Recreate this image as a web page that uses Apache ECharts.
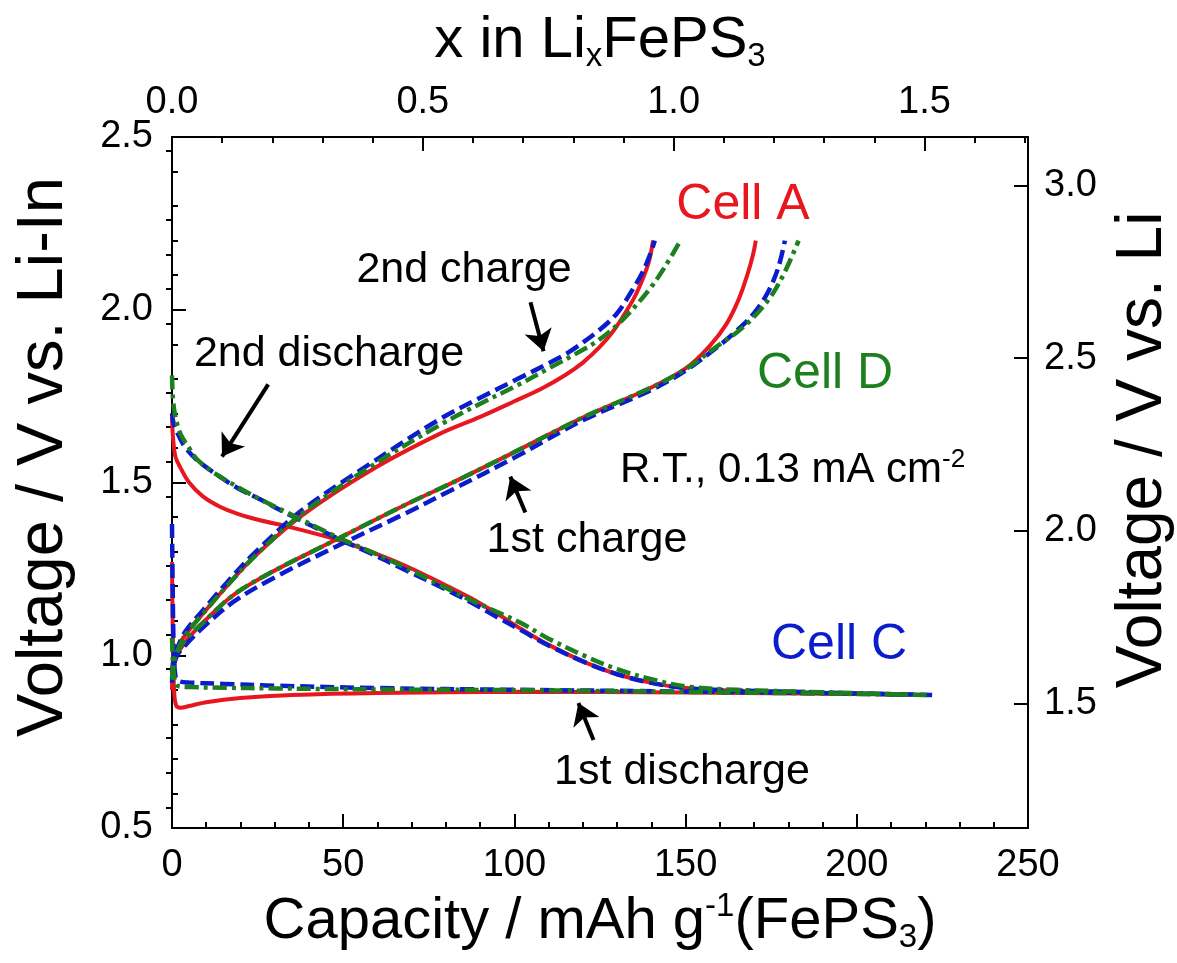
<!DOCTYPE html>
<html>
<head>
<meta charset="utf-8">
<title>FePS3 charge / discharge</title>
<script src="https://cdn.jsdelivr.net/npm/echarts@6.0.0/dist/echarts.min.js"></script>
<style>
html, body { margin: 0; padding: 0; background: #fff; }
#main { width: 1177px; height: 963px; }
</style>
</head>
<body>
<div id="main"></div>
<script>
// capacity (mAh/g) , voltage (V vs. Li-In)
var cellA_dis1 = [[0,1.27],[0.25,1.05],[0.6,0.9],[1.2,0.855],[2.5,0.848],[5,0.853],[10,0.864],[20,0.876],[35,0.885],[60,0.891],[100,0.894],[150,0.892],[200,0.888],[221,0.885]];
var cellA_chg1 = [[0,0.9],[0.5,0.96],[1.5,1.0],[4,1.04],[9,1.094],[18,1.175],[29,1.24],[48,1.335],[67,1.43],[82,1.5],[100,1.588],[120,1.688],[140,1.775],[150,1.83],[157,1.895],[162,1.96],[165.5,2.03],[168,2.1],[169.7,2.16],[170.5,2.2]];
var cellA_dis2 = [[0,1.69],[0.3,1.63],[1,1.575],[2.3,1.546],[5,1.5],[9,1.46],[14,1.43],[19,1.41],[26,1.39],[33.6,1.373],[48,1.335],[58,1.3],[67.5,1.262],[77,1.217],[87,1.167],[95,1.12],[102,1.076],[110,1.03],[121,0.978],[130,0.945],[140,0.92],[150,0.905],[165,0.897],[190,0.891],[215,0.886]];
var cellA_chg2 = [[0,0.9],[0.5,0.97],[1.5,1.02],[4,1.06],[9,1.12],[16,1.2],[24,1.285],[38,1.405],[58,1.535],[78,1.64],[90,1.69],[100,1.735],[108,1.772],[115,1.812],[120,1.847],[125,1.893],[129,1.94],[132,1.985],[135,2.035],[137.5,2.09],[139.3,2.14],[140.5,2.2]];

var cellC_dis1 = [[0,1.38],[0.2,1.2],[0.5,1.02],[1,0.94],[2,0.925],[5,0.921],[15,0.917],[30,0.912],[60,0.905],[100,0.9],[150,0.895],[200,0.889],[222,0.885]];
var cellC_chg1 = [[0,0.92],[0.5,0.97],[1.5,1.0],[4,1.03],[9,1.08],[18,1.155],[29,1.22],[48,1.315],[67,1.405],[82,1.48],[100,1.572],[120,1.68],[140,1.768],[150,1.824],[159,1.89],[165,1.94],[170,1.99],[174,2.05],[177,2.12],[179,2.2]];
var cellC_dis2 = [[0,1.7],[0.5,1.67],[2,1.635],[4,1.6],[7.3,1.565],[12,1.53],[19,1.485],[26,1.45],[33.6,1.41],[48,1.34],[58,1.295],[67.5,1.25],[77,1.205],[87,1.155],[95,1.11],[102,1.072],[110,1.028],[121,0.978],[130,0.945],[140,0.92],[150,0.905],[165,0.898],[190,0.892],[215,0.886]];
var cellC_chg2 = [[0,0.95],[0.5,0.99],[1.5,1.02],[4,1.07],[9,1.13],[16,1.21],[24,1.295],[38,1.42],[58,1.555],[78,1.682],[90,1.745],[101,1.8],[110,1.845],[116,1.878],[125,1.943],[130,1.99],[134,2.05],[137.5,2.11],[140,2.17],[141,2.2]];

var cellD_dis1 = [[0,1.05],[0.4,0.96],[1,0.92],[2,0.91],[5,0.908],[15,0.906],[30,0.904],[60,0.901],[100,0.899],[150,0.894],[200,0.888],[221,0.885]];
var cellD_chg1 = [[0,0.93],[0.5,0.98],[1.5,1.01],[4,1.045],[9,1.094],[18,1.175],[29,1.24],[48,1.335],[67,1.43],[82,1.5],[100,1.588],[120,1.688],[140,1.775],[150,1.828],[159,1.893],[165,1.935],[170,1.98],[175,2.04],[179,2.11],[183,2.2]];
var cellD_dis2 = [[0,1.81],[0.3,1.74],[1,1.69],[2.5,1.64],[5,1.6],[7.3,1.567],[12,1.53],[19,1.488],[26,1.45],[33.6,1.413],[48,1.343],[58,1.3],[67.5,1.257],[77,1.21],[87,1.161],[95,1.125],[101.8,1.094],[110,1.048],[121,0.996],[130,0.96],[140.6,0.929],[150.6,0.909],[165,0.9],[190,0.893],[215,0.886]];
var cellD_chg2 = [[0,0.93],[0.5,0.98],[1.5,1.01],[4,1.06],[9,1.12],[16,1.2],[24,1.285],[38,1.41],[58,1.546],[78,1.665],[90,1.728],[101,1.782],[110,1.83],[118,1.873],[125,1.915],[132,1.975],[139.5,2.06],[144,2.125],[148.5,2.2]];

// annotation arrows: [tail, head] in (capacity, V vs. Li-In)
var arrows = [
	[[104.7, 2.022], [108.5, 1.88]],
	[[28.1, 1.784], [14.6, 1.575]],
	[[103.2, 1.413], [98.8, 1.517]],
	[[123.1, 0.755], [118.7, 0.862]]
];

// tick values for top (x in LixFePS3) and right (V vs. Li) axes
var topMajor = [0.0, 0.5, 1.0, 1.5];
var topMinor = [0.1, 0.2, 0.3, 0.4, 0.6, 0.7, 0.8, 0.9, 1.1, 1.2, 1.3, 1.4, 1.6, 1.7];
var rightMajor = [1.5, 2.0, 2.5, 3.0];
var rightMinor = [1.2, 1.3, 1.4, 1.6, 1.7, 1.8, 1.9, 2.1, 2.2, 2.3, 2.4, 2.6, 2.7, 2.8, 2.9, 3.1];

var capPerLi = 146.5;      // mAh/g for one Li per FePS3
var liInOffset = 0.64;     // V, Li-In vs. Li

var FONT = '"Liberation Sans", Arial, Helvetica, sans-serif';
var RED = '#e8171f', BLUE = '#0b1ccc', GREEN = '#1e7f1e';

var myChart = echarts.init(document.getElementById('main'));

function curve(data, color, dash, width) {
	return {
		type: 'line',
		xAxisIndex: 0,
		yAxisIndex: 0,
		data: data,
		symbol: 'none',
		showSymbol: false,
		smooth: 0.35,
		silent: true,
		lineStyle: {
			color: color,
			width: width,
			type: dash,
			cap: 'butt'
		}
	};
}

var solid = 'solid', dashed = [14, 6], dashDot = [14, 5, 4, 5];

var series = [
	curve(cellA_dis1, RED, solid, 4),
	curve(cellA_chg1, RED, solid, 4),
	curve(cellA_dis2, RED, solid, 4),
	curve(cellA_chg2, RED, solid, 4),
	curve(cellC_dis1, BLUE, dashed, 4.5),
	curve(cellC_chg1, BLUE, dashed, 4.5),
	curve(cellC_dis2, BLUE, dashed, 4.5),
	curve(cellC_chg2, BLUE, dashed, 4.5),
	curve(cellD_dis1, GREEN, dashDot, 4.5),
	curve(cellD_chg1, GREEN, dashDot, 4.5),
	curve(cellD_dis2, GREEN, dashDot, 4.5),
	curve(cellD_chg2, GREEN, dashDot, 4.5)
];

// arrows drawn as a markLine on the first series
series[0].markLine = {
	silent: true,
	symbol: ['none', 'arrow'],
	symbolSize: 21,
	label: { show: false },
	lineStyle: { color: '#000', width: 4, type: 'solid' },
	emphasis: { disabled: true },
	animation: false,
	data: arrows.map(function (a) {
		return [{ coord: a[0] }, { coord: a[1] }];
	})
};

var axisLineStyle = { color: '#000', width: 2 };
var tickLabel = { fontSize: 38, fontFamily: FONT, color: '#000' };
var richName = {
	n: { fontSize: 58, fontFamily: FONT, color: '#000', lineHeight: 64 },
	sup: { fontSize: 33, fontFamily: FONT, color: '#000', verticalAlign: 'top' },
	sub: { fontSize: 33, fontFamily: FONT, color: '#000', verticalAlign: 'bottom' }
};

option = {
	animation: false,
	backgroundColor: '#fff',
	grid: {
		left: 172,
		right: 149,
		top: 137,
		bottom: 135,
		containLabel: false
	},
	xAxis: [{
		type: 'value',
		position: 'bottom',
		min: 0,
		max: 250,
		interval: 50,
		axisLine: { show: true, onZero: false, lineStyle: axisLineStyle },
		axisTick: { show: true, inside: true, length: 14, lineStyle: { color: '#000', width: 2 } },
		minorTick: { show: true, splitNumber: 5, length: 6, lineStyle: { color: '#000', width: 2 } },
		splitLine: { show: false },
		axisLabel: Object.assign({ margin: 19 }, tickLabel),
		name: '{n|Capacity / mAh g}{sup|-1}{n|(FePS}{sub|3}{n|)}',
		nameLocation: 'middle',
		nameGap: 62,
		nameTextStyle: { rich: richName }
	}, {
		type: 'value',
		position: 'top',
		min: 0,
		max: 250 / capPerLi,
		axisLine: { show: true, onZero: false, lineStyle: axisLineStyle },
		axisTick: { show: true, inside: true, length: 14, customValues: topMajor, lineStyle: { color: '#000', width: 2 } },
		splitLine: { show: false },
		axisLabel: Object.assign({
			margin: 15,
			customValues: topMajor,
			formatter: function (v) { return v.toFixed(1); }
		}, tickLabel),
		name: '{n|x in Li}{sub|x}{n|FePS}{sub|3}',
		nameLocation: 'middle',
		nameGap: 64,
		nameTextStyle: { rich: richName }
	}, {
		type: 'value',
		position: 'top',
		min: 0,
		max: 250 / capPerLi,
		axisLine: { show: false },
		axisTick: { show: true, inside: true, length: 6, customValues: topMinor, lineStyle: { color: '#000', width: 2 } },
		splitLine: { show: false },
		axisLabel: { show: false }
	}],
	yAxis: [{
		type: 'value',
		position: 'left',
		min: 0.5,
		max: 2.5,
		interval: 0.5,
		axisLine: { show: true, onZero: false, lineStyle: axisLineStyle },
		axisTick: { show: true, inside: true, length: 14, lineStyle: { color: '#000', width: 2 } },
		minorTick: { show: true, splitNumber: 5, length: 6, lineStyle: { color: '#000', width: 2 } },
		splitLine: { show: false },
		axisLabel: Object.assign({
			margin: 19,
			formatter: function (v) { return v.toFixed(1); }
		}, tickLabel)
	}, {
		type: 'value',
		position: 'right',
		min: 0.5 + liInOffset,
		max: 2.5 + liInOffset,
		axisLine: { show: true, onZero: false, lineStyle: axisLineStyle },
		axisTick: { show: true, inside: true, length: 14, customValues: rightMajor, lineStyle: { color: '#000', width: 2 } },
		splitLine: { show: false },
		axisLabel: Object.assign({
			margin: 16,
			customValues: rightMajor,
			formatter: function (v) { return v.toFixed(1); }
		}, tickLabel)
	}, {
		type: 'value',
		position: 'right',
		min: 0.5 + liInOffset,
		max: 2.5 + liInOffset,
		axisLine: { show: false },
		axisTick: { show: true, inside: true, length: 6, customValues: rightMinor, lineStyle: { color: '#000', width: 2 } },
		splitLine: { show: false },
		axisLabel: { show: false }
	}],
	graphic: [
		{ type: 'text', x: 44, y: 457, rotation: Math.PI / 2,
			style: { text: 'Voltage / V vs. Li-In', fontSize: 65, fontFamily: FONT, fill: '#000', align: 'center', verticalAlign: 'middle' } },
		{ type: 'text', x: 1143, y: 450, rotation: Math.PI / 2,
			style: { text: 'Voltage / V vs. Li', fontSize: 64, fontFamily: FONT, fill: '#000', align: 'center', verticalAlign: 'middle' } },
		{ type: 'text', x: 743, y: 205,
			style: { text: 'Cell A', fontSize: 50, fontFamily: FONT, fill: RED, align: 'center', verticalAlign: 'middle' } },
		{ type: 'text', x: 757, y: 374,
			style: { text: 'Cell D', fontSize: 50, fontFamily: FONT, fill: GREEN, align: 'left', verticalAlign: 'middle' } },
		{ type: 'text', x: 771, y: 645,
			style: { text: 'Cell C', fontSize: 50, fontFamily: FONT, fill: BLUE, align: 'left', verticalAlign: 'middle' } },
		{ type: 'text', x: 464, y: 270,
			style: { text: '2nd charge', fontSize: 43, fontFamily: FONT, fill: '#000', align: 'center', verticalAlign: 'middle' } },
		{ type: 'text', x: 329, y: 354,
			style: { text: '2nd discharge', fontSize: 43, fontFamily: FONT, fill: '#000', align: 'center', verticalAlign: 'middle' } },
		{ type: 'text', x: 587, y: 540,
			style: { text: '1st charge', fontSize: 43, fontFamily: FONT, fill: '#000', align: 'center', verticalAlign: 'middle' } },
		{ type: 'text', x: 682, y: 772,
			style: { text: '1st discharge', fontSize: 43, fontFamily: FONT, fill: '#000', align: 'center', verticalAlign: 'middle' } },
		{ type: 'text', x: 620, y: 470,
			style: {
				text: '{n|R.T., 0.13 mA cm}{s|-2}',
				align: 'left',
				verticalAlign: 'middle',
				rich: {
					n: { fontSize: 42, fontFamily: FONT, fill: '#000', lineHeight: 46 },
					s: { fontSize: 26, fontFamily: FONT, fill: '#000', verticalAlign: 'top' }
				}
			} }
	],
	series: series
};

myChart.setOption(option);
window.onresize = myChart.resize;
</script>
</body>
</html>
